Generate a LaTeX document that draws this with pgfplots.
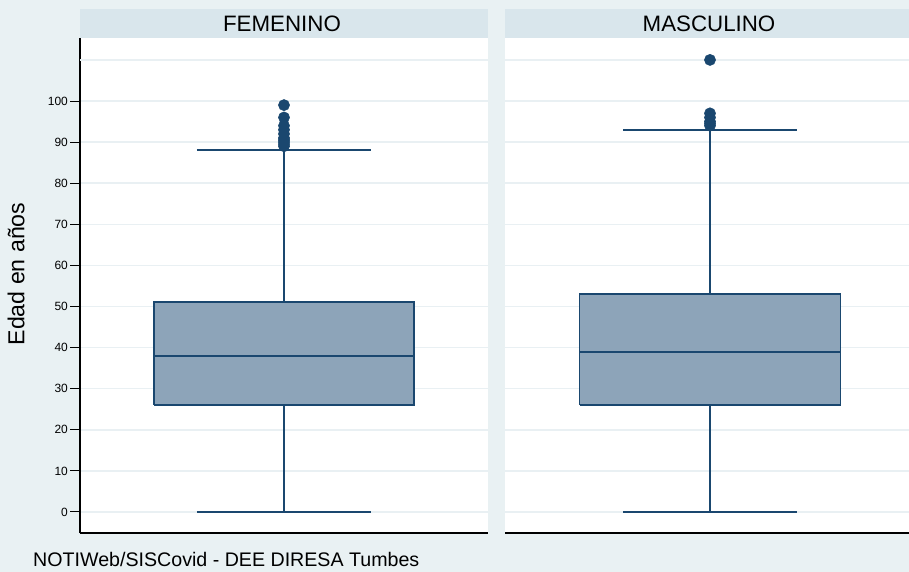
\documentclass[border=0pt]{standalone}
\usepackage{pgfplots}
\pgfplotsset{compat=1.18}
\usepackage{fontspec}
\setmainfont{Liberation Sans}
\definecolor{bg}{HTML}{E9F1F3}
\definecolor{hdr}{HTML}{D9E6EC}
\definecolor{boxfill}{HTML}{8DA4B9}
\definecolor{navy}{HTML}{1A476F}
\definecolor{gridc}{HTML}{E9F0F3}
\pgfplotsset{
  panel/.style={
    scale only axis, height=495bp, anchor=south west,
    xmin=0, ymin=-5.11, ymax=115.33,
    axis background/.style={fill=white},
    xtick=\empty,
    axis lines=left, axis line style={-, black, line width=1.3bp},
    ymajorgrids, major grid style={gridc, line width=1.5bp},
    tick align=outside, tick style={black, line width=1bp},
    major tick length=10bp,
    /pgf/number format/assume math mode=true,
    yticklabel style={font=\fontsize{12}{14}\selectfont, inner sep=2bp},
    clip=false,
  },
  ln/.style={draw=navy, line width=1.8bp, mark=none},
  out/.style={only marks, mark=*, mark size=5.6bp,
    mark options={draw=navy, fill=navy, line width=0.5bp}},
}
\begin{document}
\begin{tikzpicture}
\fill[bg] (0bp,0bp) rectangle (909bp,572bp);
\fill[hdr] (80bp,534bp) rectangle (488bp,563bp);
\node[font=\fontsize{22.4}{26}\selectfont] at (282bp,548.5bp) {FEMENINO};
\fill[hdr] (505bp,534bp) rectangle (909bp,563bp);
\node[font=\fontsize{22.4}{26}\selectfont] at (709bp,548.5bp) {MASCULINO};

% FEMENINO: lower whisker 0, Q1 26, median 38, Q3 51, upper whisker 88
\begin{axis}[panel, at={(80bp,39bp)}, width=408bp, xmax=1,
  ytick={0,10,...,100},
  extra y ticks={110}, extra y tick labels={},
  extra y tick style={grid=major, major tick length=0pt}]
\addplot[ln, fill=boxfill] coordinates {(0.1815,26) (0.8185,26) (0.8185,51) (0.1815,51) (0.1815,26)};
\addplot[ln] coordinates {(0.1815,38) (0.8185,38)};
\addplot[ln] coordinates {(0.5,51) (0.5,88)};
\addplot[ln] coordinates {(0.5,26) (0.5,0)};
\addplot[ln] coordinates {(0.28675,88) (0.71325,88)};
\addplot[ln] coordinates {(0.28675,0) (0.71325,0)};
\addplot[out] coordinates {(0.5,89) (0.5,89.5) (0.5,90) (0.5,90.5) (0.5,91) (0.5,92) (0.5,93) (0.5,94) (0.5,96) (0.5,99)};
\end{axis}

% MASCULINO: lower whisker 0, Q1 26, median 39, Q3 53, upper whisker 93
\begin{axis}[panel, at={(505bp,39bp)}, width=404bp, xmax=0.9854,
  ytick={0,10,...,110}, yticklabels={},
  major tick length=0pt,
  y axis line style={draw=none}]
\addplot[ln, fill=boxfill] coordinates {(0.1817,26) (0.8183,26) (0.8183,53) (0.1817,53) (0.1817,26)};
\addplot[ln] coordinates {(0.1817,39) (0.8183,39)};
\addplot[ln] coordinates {(0.5,53) (0.5,93)};
\addplot[ln] coordinates {(0.5,26) (0.5,0)};
\addplot[ln] coordinates {(0.2878,93) (0.7122,93)};
\addplot[ln] coordinates {(0.2878,0) (0.7122,0)};
\addplot[out] coordinates {(0.5,94) (0.5,94.5) (0.5,95) (0.5,96) (0.5,97) (0.5,110)};
\end{axis}

\node[rotate=90, font=\fontsize{23.2}{26}\selectfont] at (16bp,298bp) {Edad en años};
\node[anchor=base west, inner sep=0pt, font=\fontsize{19.7}{22}\selectfont] at (33bp,5.5bp) {NOTIWeb/SISCovid - DEE DIRESA Tumbes};
\pgfresetboundingbox
\useasboundingbox (0bp,0bp) rectangle (909bp,572bp);
\end{tikzpicture}
\end{document}
